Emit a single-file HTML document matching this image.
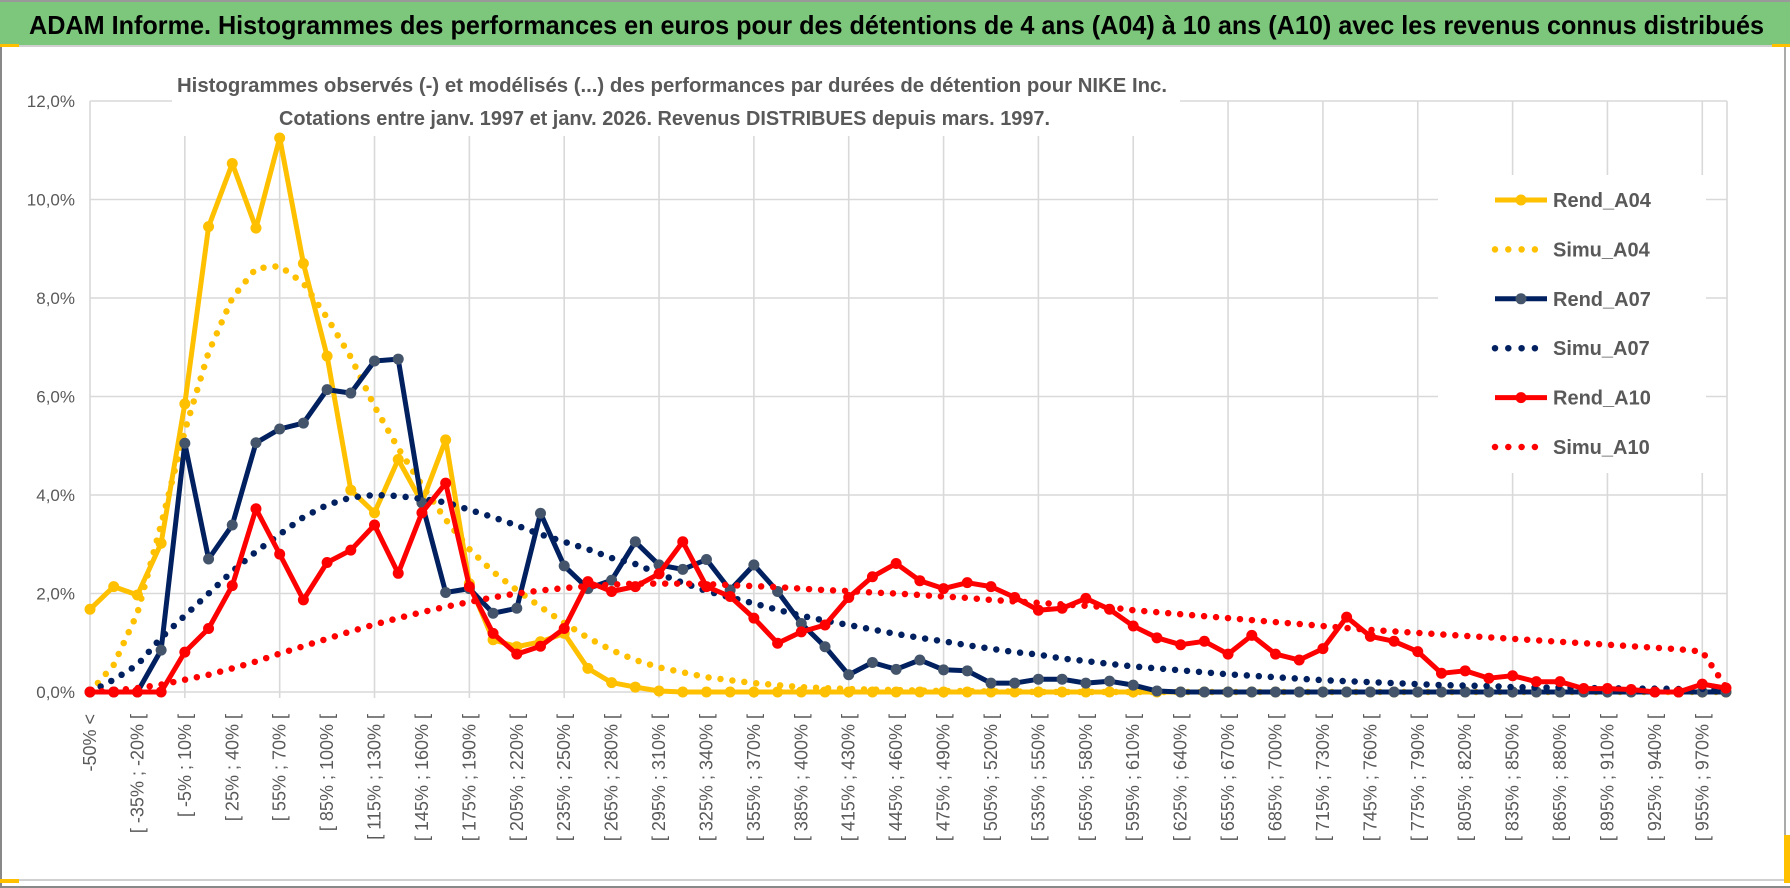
<!DOCTYPE html>
<html><head><meta charset="utf-8"><style>
html,body{margin:0;padding:0;background:#fff;}
svg{display:block;font-family:"Liberation Sans",sans-serif;}
</style></head><body>
<svg id="chart" width="1790" height="888" viewBox="0 0 1790 888">
<rect x="0" y="0" width="1790" height="888" fill="#fff"/>
<rect x="0" y="0" width="1790" height="45" fill="#7DC77D"/>
<line x1="0" y1="1" x2="1790" y2="1" stroke="#999" stroke-width="2"/>
<text x="29" y="34" font-size="26" font-weight="bold" fill="#000" textLength="1735" lengthAdjust="spacingAndGlyphs">ADAM Informe. Histogrammes des performances en euros pour des détentions de 4 ans (A04) à 10 ans (A10) avec les revenus connus distribués</text>
<rect x="1" y="46" width="1784" height="834" fill="none" stroke="#d0d0d0" stroke-width="2"/>
<line x1="1" y1="46" x2="1" y2="888" stroke="#888" stroke-width="2"/>
<line x1="0" y1="887" x2="1790" y2="887" stroke="#888" stroke-width="2"/>
<line x1="1785" y1="46" x2="1785" y2="880" stroke="#aaa" stroke-width="2"/>
<rect x="0" y="44" width="19" height="3" fill="#FFC000"/>
<rect x="1772" y="44" width="18" height="3" fill="#FFC000"/>
<rect x="0" y="879" width="19" height="4" fill="#FFC000"/>
<rect x="1784" y="835" width="6" height="48" fill="#FFC000"/>
<g id="grid"></g>
<rect x="172" y="60" width="1008" height="76" fill="#fff"/>
<rect x="1438" y="175" width="268" height="298" fill="#fff"/>
<text x="177" y="92" font-size="20" font-weight="bold" fill="#595959" textLength="990" lengthAdjust="spacingAndGlyphs">Histogrammes observés (-) et modélisés (...) des performances par durées de détention pour NIKE Inc.</text>
<text x="279" y="125" font-size="20" font-weight="bold" fill="#595959" textLength="771" lengthAdjust="spacingAndGlyphs">Cotations entre janv. 1997 et janv. 2026. Revenus DISTRIBUES depuis mars. 1997.</text>
<g id="axes"></g>
<g id="series"></g>
<g id="legend"></g>
</svg>
<script>
const yTicks = [0, 2, 4, 6, 8, 10, 12];
const yTickLabels = ["0,0%", "2,0%", "4,0%", "6,0%", "8,0%", "10,0%", "12,0%"];
const rendA04 = [1.68,2.14,1.97,3.02,5.85,9.45,10.73,9.42,11.25,8.7,6.82,4.1,3.64,4.72,3.85,5.12,2.2,1.06,0.92,1.02,1.19,0.48,0.19,0.1,0.02,0,0,0,0,0,0,0,0,0,0,0,0,0,0,0,0,0,0,0,0,0,0,0,0,0,0,0,0,0,0,0,0,0,0,0,0,0,0,0,0,0,0,0,0,0];
const simuA04 = [0,0.55,1.6,3.4,5.3,6.9,8.0,8.6,8.65,8.3,7.6,6.8,5.8,4.95,4.2,3.5,2.9,2.44,2.07,1.73,1.4,1.1,0.85,0.65,0.5,0.4,0.3,0.24,0.18,0.14,0.1,0.08,0.06,0.05,0.04,0.03,0.02,0.02,0.01,0.01,0,0,0,0,0,0,0,0,0,0,0,0,0,0,0,0,0,0,0,0,0,0,0,0,0,0,0,0,0,0];
const rendA07 = [0,0,0,0.85,5.05,2.7,3.39,5.06,5.34,5.46,6.14,6.07,6.72,6.76,3.84,2.02,2.1,1.6,1.7,3.63,2.56,2.1,2.27,3.05,2.58,2.49,2.69,2.07,2.58,2.04,1.39,0.92,0.35,0.6,0.46,0.65,0.45,0.43,0.18,0.18,0.26,0.26,0.18,0.22,0.14,0.02,0,0,0,0,0,0,0,0,0,0,0,0,0,0,0,0,0,0,0,0,0,0,0,0];
const simuA07 = [0,0.25,0.55,1.1,1.55,2.0,2.45,2.85,3.2,3.55,3.8,3.95,4.0,3.98,3.92,3.85,3.7,3.55,3.38,3.2,3.05,2.9,2.72,2.6,2.4,2.22,2.05,1.92,1.8,1.67,1.55,1.45,1.36,1.27,1.18,1.1,1.03,0.95,0.88,0.81,0.76,0.68,0.63,0.57,0.52,0.48,0.44,0.4,0.36,0.33,0.3,0.27,0.24,0.22,0.2,0.18,0.16,0.14,0.13,0.12,0.1,0.09,0.09,0.08,0.08,0.07,0.07,0.06,0.06,0.05];
const rendA10 = [0,0,0,0,0.81,1.29,2.16,3.72,2.8,1.87,2.63,2.88,3.39,2.41,3.64,4.24,2.14,1.19,0.77,0.93,1.29,2.24,2.04,2.14,2.4,3.05,2.14,1.94,1.5,0.99,1.22,1.36,1.92,2.34,2.61,2.26,2.1,2.22,2.14,1.92,1.66,1.7,1.9,1.68,1.34,1.1,0.96,1.03,0.77,1.15,0.77,0.65,0.88,1.52,1.13,1.03,0.82,0.38,0.43,0.28,0.33,0.21,0.21,0.07,0.07,0.05,0,0,0.16,0.08];
const simuA10 = [0,0.03,0.08,0.15,0.25,0.35,0.48,0.62,0.78,0.93,1.08,1.23,1.37,1.5,1.62,1.73,1.83,1.92,2.0,2.06,2.11,2.15,2.18,2.2,2.2,2.2,2.19,2.17,2.15,2.13,2.1,2.07,2.05,2.02,2.0,1.97,1.94,1.91,1.87,1.84,1.81,1.78,1.75,1.72,1.66,1.62,1.58,1.54,1.5,1.46,1.42,1.38,1.34,1.3,1.26,1.23,1.2,1.17,1.14,1.11,1.08,1.05,1.02,0.99,0.96,0.93,0.9,0.87,0.82,0.1];
const seriesNames = ["Rend_A04","Simu_A04","Rend_A07","Simu_A07","Rend_A10","Simu_A10"];
const categories = ["-50% <"];
for (let k = 1; k < 70; k++) { const lo = -50 + 15 * (k - 1); categories.push("[ " + lo + "% ; " + (lo + 15) + "% ["); }

const NS = "http://www.w3.org/2000/svg";
const X0 = 90, STEP = 23.71, Y0 = 692, YPX = 49.25;
function xs(i) { return X0 + i * STEP; }
function ys(v) { return Y0 - v * YPX; }
function mk(tag, attrs, parent) { const e = document.createElementNS(NS, tag); for (const k in attrs) e.setAttribute(k, attrs[k]); parent.appendChild(e); return e; }

const grid = document.getElementById('grid');
const xEnd = 1727;
yTicks.forEach((t, j) => {
  const g = mk('line', {x1: X0, x2: xEnd, y1: ys(t), y2: ys(t), stroke: '#D9D9D9', 'stroke-width': 1.6}, grid);
  
  
});
for (let i = 0; i < categories.length; i += 4) {
  const g = mk('line', {x1: xs(i), x2: xs(i), y1: ys(12), y2: Y0 + 6, stroke: '#D9D9D9', 'stroke-width': 1.6}, grid);
  
  
}
mk('line', {x1: xEnd, x2: xEnd, y1: ys(12), y2: Y0, stroke: '#D9D9D9', 'stroke-width': 1.6}, grid);

const axes = document.getElementById('axes');
yTicks.forEach((t, j) => {
  const tx = mk('text', {x: 75, y: ys(t) + 6, 'text-anchor': 'end', 'font-size': 17, fill: '#595959'}, axes);
  tx.textContent = yTickLabels[j];
  
  
});
categories.forEach((c, i) => {
  if (i % 2) return;
  const x = xs(i) + 6, y = 714;
  const tx = mk('text', {x: x, y: y, 'text-anchor': 'end', 'font-size': 18, fill: '#595959', transform: 'rotate(-90 ' + x + ' ' + y + ')'}, axes);
  tx.textContent = c;
  
  
});

const seriesG = document.getElementById('series');
function pts(arr) { return arr.map((v, i) => xs(i).toFixed(1) + ',' + ys(v).toFixed(1)).join(' '); }
function drawRend(arr, color, markColor, name) {
  const g = mk('g', {}, seriesG);
  
  
  mk('polyline', {points: pts(arr), fill: 'none', stroke: color, 'stroke-width': 5, 'stroke-linejoin': 'round'}, g);
  arr.forEach((v, i) => {
    const c = mk('circle', {cx: xs(i), cy: ys(v), r: 5.5, fill: markColor}, g);
    
    
  });
}
function drawSimu(arr, color, name) {
  const p = mk('polyline', {points: pts(arr), fill: 'none', stroke: color, 'stroke-width': 6.5, 'stroke-linecap': 'round', 'stroke-dasharray': '0 12', 'stroke-linejoin': 'round'}, seriesG);
  
  
}
drawRend(rendA04, '#FFC000', '#FFC000', 'rend-a04-line');
drawSimu(simuA04, '#FFC000', 'simu-a04-line');
drawRend(rendA07, '#002060', '#44546A', 'rend-a07-line');
drawSimu(simuA07, '#002060', 'simu-a07-line');
drawRend(rendA10, '#FF0000', '#FF0000', 'rend-a10-line');
drawSimu(simuA10, '#FF0000', 'simu-a10-line');

const legend = document.getElementById('legend');
const legColors = ['#FFC000','#FFC000','#002060','#002060','#FF0000','#FF0000'];
const legMark = ['#FFC000',null,'#44546A',null,'#FF0000',null];
seriesNames.forEach((n, k) => {
  const y = 200 + k * 49.4;
  const g = mk('g', {}, legend);
  
  
  if (k % 2 === 0) {
    mk('line', {x1: 1495, x2: 1547, y1: y, y2: y, stroke: legColors[k], 'stroke-width': 5}, g);
    mk('circle', {cx: 1521, cy: y, r: 5.5, fill: legMark[k]}, g);
  } else {
    mk('line', {x1: 1495, x2: 1538, y1: y, y2: y, stroke: legColors[k], 'stroke-width': 6.5, 'stroke-linecap': 'round', 'stroke-dasharray': '0 13.3'}, g);
  }
  const t = mk('text', {x: 1553, y: y + 7, 'font-size': 20, 'font-weight': 'bold', fill: '#595959'}, g);
  t.textContent = n;
});
</script>
</body></html>
